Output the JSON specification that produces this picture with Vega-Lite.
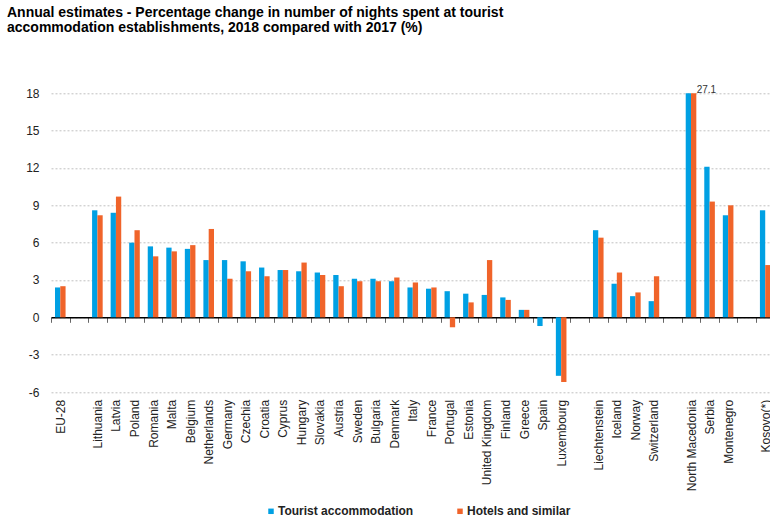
{
  "$schema": "https://vega.github.io/schema/vega-lite/v6.json",
  "width": 719,
  "height": 298.7,
  "autosize": {"type": "none"},
  "padding": {"left": 51, "top": 93.3, "right": 0, "bottom": 130},
  "background": "white",
  "title": {
    "text": ["Annual estimates - Percentage change in number of nights spent at tourist", "accommodation establishments, 2018 compared with 2017 (%)"],
    "anchor": "start",
    "frame": "group",
    "fontSize": 14,
    "fontWeight": "bold",
    "font": "Liberation Sans",
    "color": "#000000",
    "offset": 50,
    "dx": -44,
    "lineHeight": 15
  },
  "data": {
    "values": [
      {"country": "EU-28", "Tourist accommodation": 2.4, "Hotels and similar": 2.5},
      {"country": "gap1", "Tourist accommodation": null, "Hotels and similar": null},
      {"country": "Lithuania", "Tourist accommodation": 8.6, "Hotels and similar": 8.2},
      {"country": "Latvia", "Tourist accommodation": 8.4, "Hotels and similar": 9.7},
      {"country": "Poland", "Tourist accommodation": 6.0, "Hotels and similar": 7.0},
      {"country": "Romania", "Tourist accommodation": 5.7, "Hotels and similar": 4.9},
      {"country": "Malta", "Tourist accommodation": 5.6, "Hotels and similar": 5.3},
      {"country": "Belgium", "Tourist accommodation": 5.5, "Hotels and similar": 5.8},
      {"country": "Netherlands", "Tourist accommodation": 4.6, "Hotels and similar": 7.1},
      {"country": "Germany", "Tourist accommodation": 4.6, "Hotels and similar": 3.1},
      {"country": "Czechia", "Tourist accommodation": 4.5, "Hotels and similar": 3.7},
      {"country": "Croatia", "Tourist accommodation": 4.0, "Hotels and similar": 3.3},
      {"country": "Cyprus", "Tourist accommodation": 3.8, "Hotels and similar": 3.8},
      {"country": "Hungary", "Tourist accommodation": 3.7, "Hotels and similar": 4.4},
      {"country": "Slovakia", "Tourist accommodation": 3.6, "Hotels and similar": 3.4},
      {"country": "Austria", "Tourist accommodation": 3.4, "Hotels and similar": 2.5},
      {"country": "Sweden", "Tourist accommodation": 3.1, "Hotels and similar": 2.9},
      {"country": "Bulgaria", "Tourist accommodation": 3.1, "Hotels and similar": 2.9},
      {"country": "Denmark", "Tourist accommodation": 2.9, "Hotels and similar": 3.2},
      {"country": "Italy", "Tourist accommodation": 2.4, "Hotels and similar": 2.8},
      {"country": "France", "Tourist accommodation": 2.3, "Hotels and similar": 2.4},
      {"country": "Portugal", "Tourist accommodation": 2.1, "Hotels and similar": -0.8},
      {"country": "Estonia", "Tourist accommodation": 1.9, "Hotels and similar": 1.2},
      {"country": "United Kingdom", "Tourist accommodation": 1.8, "Hotels and similar": 4.6},
      {"country": "Finland", "Tourist accommodation": 1.6, "Hotels and similar": 1.4},
      {"country": "Greece", "Tourist accommodation": 0.6, "Hotels and similar": 0.6},
      {"country": "Spain", "Tourist accommodation": -0.7, "Hotels and similar": 0.0},
      {"country": "Luxembourg", "Tourist accommodation": -4.7, "Hotels and similar": -5.2},
      {"country": "gap2", "Tourist accommodation": null, "Hotels and similar": null},
      {"country": "Liechtenstein", "Tourist accommodation": 7.0, "Hotels and similar": 6.4},
      {"country": "Iceland", "Tourist accommodation": 2.7, "Hotels and similar": 3.6},
      {"country": "Norway", "Tourist accommodation": 1.7, "Hotels and similar": 2.0},
      {"country": "Switzerland", "Tourist accommodation": 1.3, "Hotels and similar": 3.3},
      {"country": "gap3", "Tourist accommodation": null, "Hotels and similar": null},
      {"country": "North Macedonia", "Tourist accommodation": 18.0, "Hotels and similar": 27.1},
      {"country": "Serbia", "Tourist accommodation": 12.1, "Hotels and similar": 9.3},
      {"country": "Montenegro", "Tourist accommodation": 8.2, "Hotels and similar": 9.0},
      {"country": "gap4", "Tourist accommodation": null, "Hotels and similar": null},
      {"country": "Kosovo(*)", "Tourist accommodation": 8.6, "Hotels and similar": 4.2}
    ]
  },
  "transform": [
    {"fold": ["Tourist accommodation", "Hotels and similar"], "as": ["series", "value"]}
  ],
  "encoding": {
    "x": {
      "field": "country",
      "type": "nominal",
      "sort": null,
      "scale": {"range": [0, 723.5], "paddingInner": 0, "paddingOuter": 0},
      "axis": {
        "title": null,
        "tickBand": "extent",
        "offset": -74.7,
        "labelAngle": -90,
        "labelPadding": 77,
        "tickSize": 5,
        "tickColor": "#666666",
        "domainColor": "#000000",
        "domainWidth": 1.5,
        "labelFontSize": 12,
        "labelColor": "#222222",
        "labelFont": "Liberation Sans",
        "labelOverlap": false,
        "labelLimit": 300,
        "grid": false,
        "labelExpr": "indexof(datum.label, 'gap') == 0 ? '' : datum.label"
      }
    },
    "xOffset": {
      "field": "series",
      "type": "nominal",
      "sort": ["Tourist accommodation", "Hotels and similar"],
      "scale": {"paddingInner": 0, "paddingOuter": 0.75}
    },
    "y": {
      "field": "value",
      "type": "quantitative",
      "scale": {"domain": [-6, 18], "clamp": true, "nice": false, "zero": false},
      "axis": {
        "title": null,
        "values": [-6, -3, 0, 3, 6, 9, 12, 15, 18],
        "domain": false,
        "ticks": false,
        "grid": true,
        "gridDash": [2, 2],
        "gridColor": "#c0c0c0",
        "labelPadding": 12,
        "labelFontSize": 12,
        "labelColor": "#222222",
        "labelFont": "Liberation Sans",
        "labelExpr": "replace(datum.label, '\u2212', '-')"
      }
    }
  },
  "layer": [
    {
      "mark": {"type": "bar"},
      "encoding": {
        "color": {
          "field": "series",
          "type": "nominal",
          "scale": {"domain": ["Tourist accommodation", "Hotels and similar"], "range": ["#00A0E3", "#F0642A"]},
          "legend": {
            "title": null,
            "orient": "none",
            "legendX": 214,
            "legendY": 412,
            "direction": "horizontal",
            "symbolType": "square",
            "symbolSize": 30,
            "symbolStrokeWidth": 0,
            "labelFontSize": 12,
            "labelFontWeight": "bold",
            "labelFont": "Liberation Sans",
            "labelColor": "#222222",
            "labelOffset": 1,
            "columnPadding": 40
          }
        }
      }
    },
    {
      "transform": [{"filter": "datum.value > 18"}],
      "mark": {"type": "text", "align": "left", "baseline": "alphabetic", "dx": 3, "fontSize": 10, "color": "#333333"},
      "encoding": {
        "text": {"field": "value", "type": "quantitative", "format": ".1f"}
      }
    }
  ],
  "config": {
    "font": "Liberation Sans",
    "view": {"stroke": null},
    "mark": {"invalid": "break-paths-show-domains"}
  }
}
